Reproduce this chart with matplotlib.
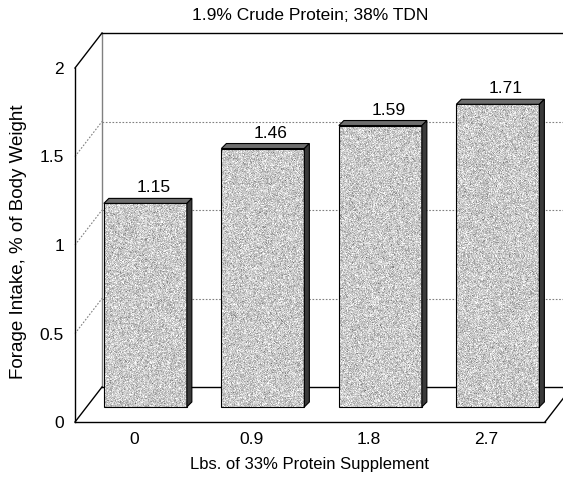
import numpy as np
import matplotlib.pyplot as plt
from matplotlib.patches import Polygon

plt.rcParams['font.family'] = ['Liberation Sans', 'DejaVu Sans']

categories = ['0', '0.9', '1.8', '2.7']
intake = [1.15, 1.46, 1.59, 1.71]
yticks = [0, 0.5, 1, 1.5, 2]
ytick_labels = ['0', '0.5', '1', '1.5', '2']

title = '1.9% Crude Protein; 38% TDN'
xlabel = 'Lbs. of 33% Protein Supplement'
ylabel = 'Forage Intake, % of Body Weight'

W, H = 563, 479
fig = plt.figure(figsize=(W / 100, H / 100), dpi=100)
ax = fig.add_axes([75 / W, (H - 422) / H, 470 / W, 354 / H])
ax.set_xlim(0, 4)
ax.set_ylim(0, 2)

# pixel sizes of one data unit
ux, uy = 470 / 4, 354 / 2
# depth of the 3d box (back wall offset) and of the bars
dx, dy = 27 / ux, 35 / uy
f = 0.43
bdx, bdy = 5 / ux, 5 / uy
bw = 83 / ux

# back wall
gray = '#808080'
for v in yticks[1:-1]:
    ax.plot([dx, 4 + dx], [v + dy, v + dy], color=gray, lw=0.8, ls=(0, (1.5, 1.5)), clip_on=False, zorder=1)
    ax.plot([0, dx], [v, v + dy], color=gray, lw=0.8, ls=(0, (1.5, 1.5)), clip_on=False, zorder=1)
ax.plot([dx, dx], [dy, 2 + dy], color=gray, lw=1, clip_on=False, zorder=1)
ax.plot([dx, 4 + dx], [2 + dy, 2 + dy], color='black', lw=1, clip_on=False, zorder=1)
ax.plot([dx, 4 + dx], [dy, dy], color='black', lw=1, clip_on=False, zorder=1)
ax.plot([0, dx], [2, 2 + dy], color='black', lw=1, clip_on=False, zorder=1)
ax.plot([0, dx], [0, dy], color='black', lw=1, clip_on=False, zorder=1)
ax.plot([4, 4 + dx], [0, dy], color='black', lw=1, clip_on=False, zorder=1)

# bars with a fine stippled texture
rng = np.random.default_rng(3)
for i, v in enumerate(intake):
    x0 = i + 0.5 - bw / 2 + f * dx
    y0 = f * dy
    x1, y1 = x0 + bw, y0 + v
    tex = np.clip(rng.normal(0.79, 0.10, (int(v * uy), int(bw * ux))), 0, 1)
    ax.imshow(tex, cmap='gray', vmin=0, vmax=1, extent=[x0, x1, y0, y1],
              aspect='auto', interpolation='nearest', zorder=3)
    ax.add_patch(Polygon([[x0, y0], [x1, y0], [x1, y1], [x0, y1]], closed=True,
                         fill=False, ec='black', lw=0.8, zorder=4))
    ax.add_patch(Polygon([[x0, y1], [x1, y1], [x1 + bdx, y1 + bdy], [x0 + bdx, y1 + bdy]],
                         closed=True, fc='#6e6e6e', ec='black', lw=0.8, zorder=4))
    ax.add_patch(Polygon([[x1, y0], [x1 + bdx, y0 + bdy], [x1 + bdx, y1 + bdy], [x1, y1]],
                         closed=True, fc='#3a3a3a', ec='black', lw=0.8, zorder=4))
    ax.annotate(f'{v:.2f}', ((x0 + x1) / 2, y1), xytext=(8, 8), textcoords='offset pixels',
                ha='center', va='bottom', fontsize=12.5, zorder=5)

ax.set_xticks([i + 0.5 for i in range(len(categories))])
ax.set_xticklabels(categories)
ax.set_yticks(yticks)
ax.set_yticklabels(ytick_labels)
ax.tick_params(length=0, labelsize=12.5)
ax.tick_params(axis='y', pad=8)
ax.tick_params(axis='x', pad=7)
for s in ['top', 'right']:
    ax.spines[s].set_visible(False)
for s in ['left', 'bottom']:
    ax.spines[s].set_linewidth(1)

fig.text(310 / W, 1 - 465 / H, xlabel, ha='center', va='center', fontsize=12)
fig.text(19 / W, 1 - 242 / H, ylabel, ha='center', va='center', rotation=90, fontsize=13.5)
fig.text(310 / W, 1 - 15 / H, title, ha='center', va='center', fontsize=12.5)

fig.savefig('out.png', dpi=100)
